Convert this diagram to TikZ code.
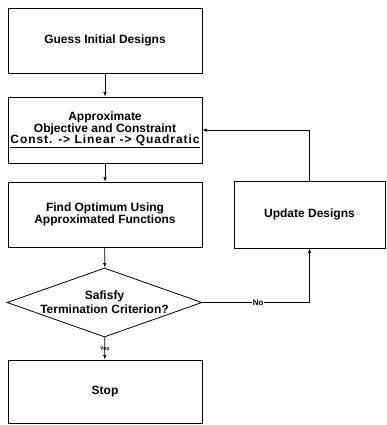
\documentclass[tikz,border=0pt]{standalone}
\usepackage{fontspec}
\setmainfont{Liberation Sans}
\usepackage{xcolor}
\usepackage{tikz}
\usetikzlibrary{shapes.geometric,arrows.meta}
\definecolor{ink}{HTML}{000000}
\definecolor{paper}{HTML}{FFFFFF}
\tikzset{
  blk/.style={draw=ink, line width=0.8pt, minimum width=194pt, minimum height=65pt, inner sep=0pt, align=center, font=\fontsize{12}{11.5}\selectfont\bfseries},
  dec/.style={draw=ink, line width=0.8pt, diamond, aspect=2.83, inner sep=-2pt, minimum width=195pt, minimum height=69pt, align=center, font=\fontsize{12}{14}\selectfont\bfseries},
  flow/.style={draw=ink, line width=0.8pt, -{Latex[length=4.5pt,width=3.5pt]}},
  lab/.style={text=ink, font=\fontsize{8}{8}\selectfont\bfseries, fill=paper, inner sep=1pt},
  labs/.style={text=ink, font=\fontsize{5.5}{5.5}\selectfont\bfseries, inner sep=0.5pt},
}

\begin{document}
\begin{tikzpicture}[x=1pt,y=-1pt]
  \useasboundingbox (0,0) rectangle (387,425);

  \node[blk] (guess) at (105,40.5) {Guess Initial Designs};
  \node[blk, minimum height=66pt] (approx) at (105,130) {Approximate\\Objective and Constraint\\
    \underline{\addfontfeature{LetterSpace=8}Const. -> Linear -> Quadratic}};
  \node[blk] (find) at (105,214.5) {Find Optimum Using\\Approximated Functions};
  \node[dec] (check) at (104.5,302.5) {Safisfy\\Termination Criterion?};
  \node[blk, minimum height=63pt] (stop) at (105,391.5) {Stop};
  \node[blk, minimum width=151pt, minimum height=67pt] (update) at (309.5,214.5) {Update Designs};

  \draw[flow] (guess) -- (approx);
  \draw[flow] (approx) -- (find);
  \draw[flow] (find) -- (check);
  \draw[flow] (check) -- node[labs] {Yes} (stop);
  \draw[flow] (check.east) -| node[lab, pos=0.26] {No} (update.south);
  \draw[flow] (update.north) |- (approx.east);
\end{tikzpicture}
\end{document}
